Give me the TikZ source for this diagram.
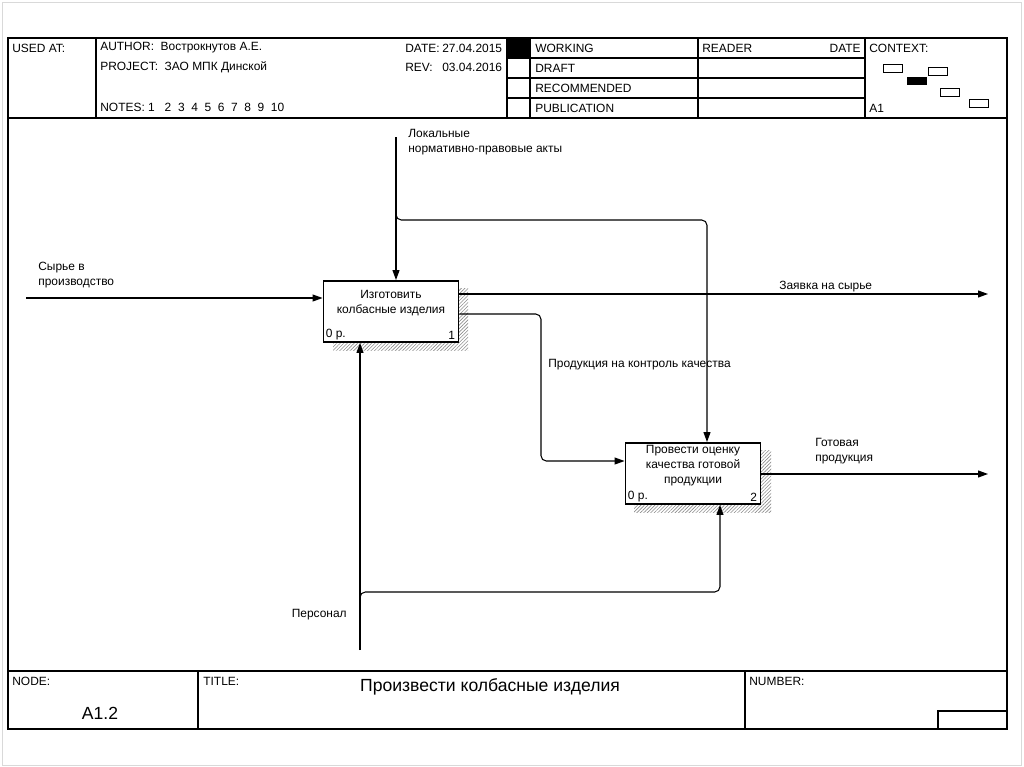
\documentclass[tikz,border=0pt]{standalone}
\usepackage{fontspec}
\setmainfont{Liberation Sans}
\usetikzlibrary{arrows.meta, positioning, patterns.meta}

\begin{document}
\begin{tikzpicture}[x=0.02cm, y=-0.02cm,
        font=\fontsize{6.8}{8.5}\selectfont,
        txt/.style={inner sep=0pt, anchor=west},
        lbl/.style={inner sep=0pt, anchor=west, align=left},
        fnbox/.style={draw, line width=1.1pt, fill=white,
                    minimum width=2.7cm, minimum height=1.22cm, inner sep=0pt},
        fntext/.style={inner sep=0pt, align=center},
        shade/.style={pattern={Lines[angle=45, distance=1.4pt, line width=0.35pt]},
                    pattern color=gray!90},
        arr/.style={-{Triangle[length=0.2cm, width=0.14cm]}, line width=0.6pt},
        frm/.style={line width=0.6pt},
        ctxbox/.style={draw, line width=0.5pt, minimum width=0.38cm,
                    minimum height=0.15cm, inner sep=0pt}
    ]
        \useasboundingbox (0,0) rectangle (1024,767);
        \draw[gray!30] (2,2) rectangle (1021,765);

        % frame
        \draw[frm] (8,38) rectangle (1007,729);
        \draw[frm] (8,118) -- (1007,118);
        \draw[frm] (8,671) -- (1007,671);

        % header
        \foreach \x in {96,507,530,698,865}
            \draw[frm] (\x,38) -- (\x,118);
        \foreach \y in {58,78,98}
            \draw[frm] (507,\y) -- (865,\y);
        \fill (507,38) rectangle (530,58);

        \node[txt] (usedat) at (12,48) {USED AT:};
        \node[txt] (author) at (100,48) {AUTHOR:\ \ Вострокнутов А.Е.};
        \node[txt] (project) at (100,67) {PROJECT:\ \ ЗАО МПК Динской};
        \node[txt] (notes) at (100,107) {NOTES:\ 1\ \ \ 2\ \ 3\ \ 4\ \ 5\ \ 6\ \ 7\ \ 8\ \ 9\ \ 10};
        \node[txt] (date) at (405,48) {\makebox[0.74cm][l]{DATE:}27.04.2015};
        \node[txt] (rev) at (405,67) {\makebox[0.74cm][l]{REV:}03.04.2016};
        \node[txt] (working) at (535,48) {WORKING};
        \node[txt] (draft) at (535,68) {DRAFT};
        \node[txt] (recom) at (535,88) {RECOMMENDED};
        \node[txt] (publ) at (535,108) {PUBLICATION};
        \node[txt] (reader) at (702,48) {READER};
        \node[txt, anchor=east] (rdate) at (861,48) {DATE};
        \node[txt] (context) at (869,48) {CONTEXT:};
        \node[txt] (ctxname) at (869,108) {A1};

        % context sketch
        \node[ctxbox] (c1) at (892.5,68.5) {};
        \node[ctxbox, fill=black] (c2) at (917,81) {};
        \node[ctxbox] (c3) at (938,71.5) {};
        \node[ctxbox] (c4) at (949.5,92.5) {};
        \node[ctxbox] (c5) at (978.5,103.5) {};

        % footer
        \draw[frm] (198,671) -- (198,729);
        \draw[frm] (745,671) -- (745,729);
        \draw[frm] (938,729) |- (1007,711);
        \node[txt] (nodelbl) at (12,681) {NODE:};
        \node[txt] (titlelbl) at (203,681) {TITLE:};
        \node[txt] (numlbl) at (749,681) {NUMBER:};
        \node[inner sep=0pt, font=\fontsize{10}{12}\selectfont] (nodenum) at (100,713) {A1.2};
        \node[inner sep=0pt, font=\fontsize{10}{12}\selectfont] (title) at (490,687) {Произвести колбасные изделия};

        % activity boxes
        \fill[shade] (333,288) rectangle (468,350);
        \node[fnbox] (make) at (391,311.5) {};
        \node[fntext] (maketext) at ([yshift=0.16cm]make.center) {Изготовить\\колбасные изделия};
        \node[txt, anchor=south west] at ([shift={(3,-3)}]make.south west) {0 р.};
        \node[txt, anchor=south east] at ([shift={(-4,-3)}]make.south east) {1};

        \fill[shade] (634,450) rectangle (771,512);
        \node[fnbox] (check) at (693,473.5) {};
        \node[fntext] (checktext) at ([yshift=0.15cm]check.center) {Провести оценку\\качества готовой\\продукции};
        \node[txt, anchor=south west] at ([shift={(3,-3)}]check.south west) {0 р.};
        \node[txt, anchor=south east] at ([shift={(-4,-3)}]check.south east) {2};

        % free ends
        \coordinate (inS) at (26,298);
        \coordinate (ctlS) at (396,137);
        \coordinate (ctlK) at (396,220);
        \coordinate (ctlE) at ([xshift=0.28cm]check.north);
        \coordinate (mecS) at (360,650);
        \coordinate (mecK) at (360,592);
        \coordinate (mecE) at ([xshift=0.54cm]check.south);
        \coordinate (out1E) at (988,294);
        \coordinate (prodY) at (541,314);
        \coordinate (chkIn) at ([yshift=0.25cm]check.west);
        \coordinate (out2E) at (988,474);

        % arrows
        \draw[arr] (inS) -- (inS -| make.west);
        \draw[arr] (ctlS) -- (ctlS |- make.north);
        \draw[arr, rounded corners=3pt] ([yshift=0.1cm]ctlK) -- (ctlK) -| (ctlE);
        \draw[arr] (mecS) -- (mecS |- make.south);
        \draw[arr, rounded corners=3pt] ([yshift=-0.1cm]mecK) -- (mecK) -| (mecE);
        \draw[arr] (make.east |- out1E) -- (out1E);
        \draw[arr, rounded corners=3pt] (make.east |- prodY) -- (prodY) |- (chkIn);
        \draw[arr] (check.east |- out2E) -- (out2E);

        % arrow labels
        \node[lbl] (inlbl) at (38,275.5) {Сырье в\\производство};
        \node[lbl] (ctllbl) at (408,142.5) {Локальные\\нормативно-правовые акты};
        \node[lbl] (out1lbl) at (779,287) {Заявка на сырье};
        \node[lbl] (prodlbl) at (548,365) {Продукция на контроль качества};
        \node[lbl] (out2lbl) at (815,451.5) {Готовая\\продукция};
        \node[txt, anchor=east] (meclbl) at (347,615) {Персонал};
    \end{tikzpicture}
\end{document}
